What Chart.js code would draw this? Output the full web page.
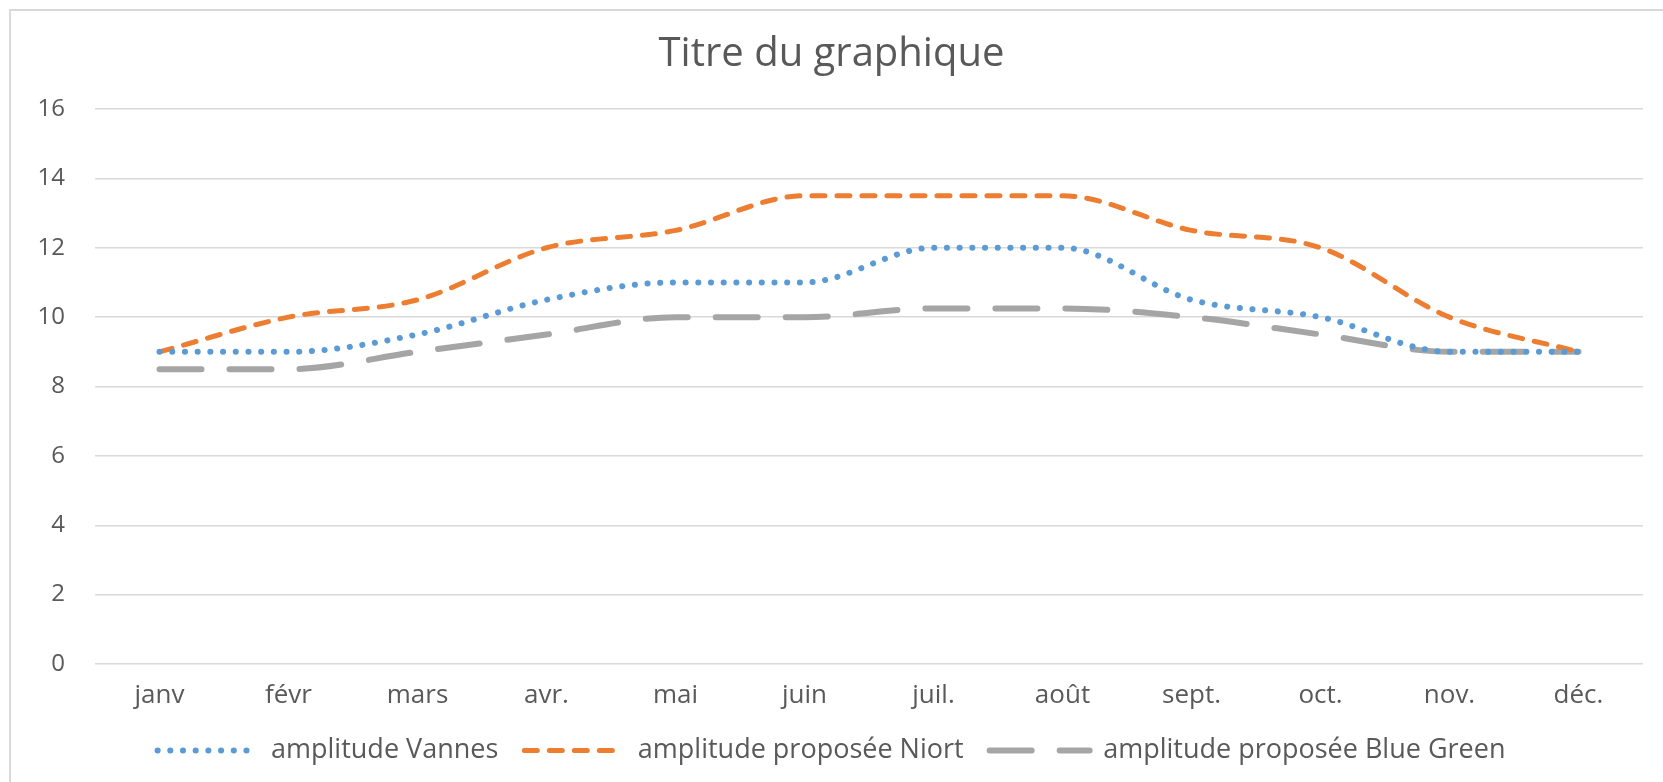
<!DOCTYPE html>
<html lang="fr">
<head>
<meta charset="utf-8">
<title>Titre du graphique</title>
<script src="https://cdn.jsdelivr.net/npm/chart.js@4.4.1/dist/chart.umd.min.js"></script>
<style>
  html, body { margin: 0; padding: 0; background: #fff; overflow: hidden; }
  #frame {
    position: absolute; left: 9px; top: 9px; width: 1700px; height: 800px;
    border-left: 2px solid #d9d9d9; border-top: 2px solid #d9d9d9;
  }
  #wrap { position: absolute; left: 0; top: 0; width: 1663px; height: 782px; }
</style>
</head>
<body>
<div id="frame"></div>
<div id="wrap"><canvas id="amplitudeChart"></canvas></div>
<script>
  // Data
  const months = ["janv", "févr", "mars", "avr.", "mai", "juin", "juil.", "août", "sept.", "oct.", "nov.", "déc."];
  const vannes = [9, 9, 9.5, 10.5, 11, 11, 12, 12, 10.5, 10, 9, 9];
  const niort = [9, 10, 10.5, 12, 12.5, 13.5, 13.5, 13.5, 12.5, 12, 10, 9];
  const blueGreen = [8.5, 8.5, 9, 9.5, 10, 10, 10.25, 10.25, 10, 9.5, 9, 9];
  const seriesNames = ["amplitude Vannes", "amplitude proposée Niort", "amplitude proposée Blue Green"];
  const yMin = 0;
  const yMax = 16;
  const yStep = 2;

  const textColor = "#595959";
  const fontFamily = "'Open Sans', 'Noto Sans', sans-serif";

  const ctx = document.getElementById("amplitudeChart").getContext("2d");
  new Chart(ctx, {
    type: "line",
    data: {
      labels: months,
      datasets: [
        {
          label: seriesNames[0],
          data: vannes,
          borderColor: "#5B9BD5",
          backgroundColor: "#5B9BD5",
          borderWidth: 6,
          borderDash: [0.1, 12.6],
          borderCapStyle: "round",
        },
        {
          label: seriesNames[1],
          data: niort,
          borderColor: "#ED7D31",
          backgroundColor: "#ED7D31",
          borderWidth: 5,
          borderDash: [13, 12],
          borderCapStyle: "round",
        },
        {
          label: seriesNames[2],
          data: blueGreen,
          borderColor: "#A5A5A5",
          backgroundColor: "#A5A5A5",
          borderWidth: 6,
          borderDash: [42, 28],
          borderCapStyle: "round",
        },
      ],
    },
    options: {
      responsive: true,
      maintainAspectRatio: false,
      animation: false,
      layout: {
        padding: { top: 10, left: 20, right: 20, bottom: 8 },
      },
      elements: {
        point: { radius: 0, hoverRadius: 0 },
        line: { cubicInterpolationMode: "monotone", fill: false, borderJoinStyle: "round" },
      },
      plugins: {
        title: {
          display: true,
          text: "Titre du graphique",
          color: textColor,
          font: { family: fontFamily, size: 40, weight: "normal" },
          padding: { top: 21, bottom: 30 },
        },
        legend: {
          position: "bottom",
          labels: {
            usePointStyle: true,
            pointStyle: "line",
            pointStyleWidth: 100,
            color: textColor,
            font: { family: fontFamily, size: 27 },
            padding: 26,
            // point style items lose the dash pattern, so build them from the datasets
            generateLabels: function (chart) {
              return chart.data.datasets.map((ds, i) => ({
                text: ds.label,
                fillStyle: ds.backgroundColor,
                strokeStyle: ds.borderColor,
                lineWidth: ds.borderWidth,
                lineDash: ds.borderDash,
                lineCap: ds.borderCapStyle,
                fontColor: textColor,
                pointStyle: "line",
                hidden: !chart.isDatasetVisible(i),
                datasetIndex: i,
              }));
            },
          },
        },
        tooltip: { enabled: false },
      },
      scales: {
        x: {
          offset: true,
          grid: { display: false, drawTicks: false },
          border: { display: false },
          ticks: {
            color: textColor,
            font: { family: fontFamily, size: 26 },
            padding: 16,
            maxRotation: 0,
            autoSkip: false,
          },
          afterFit: function (scale) {
            scale.height = 47;
          },
        },
        y: {
          min: yMin,
          max: yMax,
          ticks: {
            stepSize: yStep,
            padding: 30,
            color: textColor,
            font: { family: fontFamily, size: 24 },
          },
          grid: { color: "#D9D9D9", lineWidth: 1.5, drawTicks: false },
          border: { display: false },
          afterFit: function (scale) {
            scale.width = 75;
          },
        },
      },
    },
  });
</script>
</body>
</html>
